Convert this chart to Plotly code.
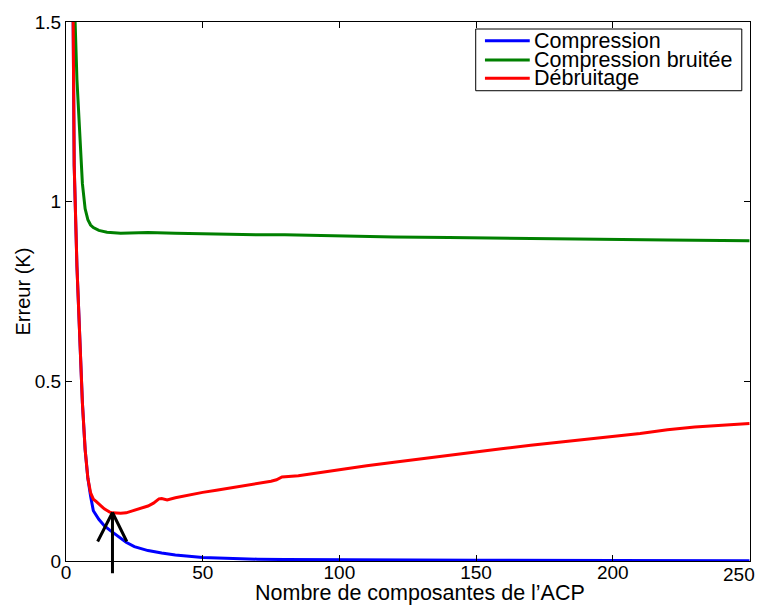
import plotly.graph_objects as go

# ---------------- data ----------------
x_comp = [1, 2, 3, 4, 5, 6, 7, 8, 9, 10, 12, 14, 16, 18, 20, 22, 25, 30, 35, 40, 50, 60, 70, 80,
          100, 150, 200, 250]
y_comp = [3.2, 2.0, 1.1, 0.82, 0.62, 0.44, 0.31, 0.23, 0.18, 0.14, 0.116, 0.098, 0.086, 0.074,
          0.062, 0.052, 0.040, 0.029, 0.022, 0.017, 0.010, 0.007, 0.005, 0.004,
          0.003, 0.002, 0.0015, 0.001]

x_noisy = [1, 2, 3, 4, 5, 6, 7, 8, 9, 10, 12, 15, 20, 30, 40, 50, 60, 70, 80, 90, 100, 120, 140,
           160, 180, 200, 220, 240, 250]
y_noisy = [3.5, 2.4, 1.58, 1.34, 1.2, 1.05, 0.98, 0.95, 0.935, 0.928, 0.92, 0.915, 0.912, 0.914,
           0.912, 0.910, 0.909, 0.908, 0.908, 0.906, 0.904, 0.902, 0.900, 0.898, 0.896, 0.893,
           0.893, 0.892, 0.891]

x_denoise = [1, 2, 3, 4, 5, 6, 7, 8, 9, 10, 11, 12, 13, 14, 15, 16, 17, 18, 20, 22, 24, 26, 28, 30,
             32, 34, 35, 37, 40, 45, 50, 55, 60, 65, 70, 75, 77, 79, 85, 90, 95, 100, 110, 120,
             130, 140, 150, 160, 170, 180, 190, 200, 210, 220, 230, 240, 250]
y_denoise = [3.2, 2.0, 1.1, 0.82, 0.62, 0.44, 0.31, 0.23, 0.19, 0.172, 0.166, 0.16, 0.152, 0.145,
             0.14, 0.136, 0.134, 0.133, 0.133, 0.134, 0.139, 0.145, 0.148, 0.153, 0.161, 0.173,
             0.174, 0.170, 0.176, 0.184, 0.191, 0.197, 0.203, 0.210, 0.216, 0.222, 0.226, 0.234,
             0.237, 0.243, 0.249, 0.255, 0.265, 0.275, 0.285, 0.295, 0.305, 0.313, 0.322, 0.330,
             0.337, 0.345, 0.355, 0.365, 0.373, 0.378, 0.383]

series_names = ["Compression", "Compression bruitée", "Débruitage"]
series_colors = ["#0000FF", "#008000", "#FF0000"]

x_ticks = [0, 50, 100, 150, 200, 250]
x_ticktext = ["0", "50", "100", "150", "200", "250"]
y_ticks = [0, 0.5, 1, 1.5]
y_ticktext = ["0", "0.5", "1", "1.5"]

x_title = "Nombre de composantes de l’ACP"
y_title = "Erreur (K)"

# arrow marking the optimum (data coordinates)
arrow_tip = (17, 0.135)
arrow_tail = (17, -0.038)
arrow_head_left = (11.3, 0.05)
arrow_head_right = (22.5, 0.05)

FONT = "Liberation Sans, Arial, Helvetica, sans-serif"
LABEL_SIZE = 21.5
TICK_SIZE = 19

fig = go.Figure()
for xs, ys, name, col in [(x_comp, y_comp, series_names[0], series_colors[0]),
                          (x_noisy, y_noisy, series_names[1], series_colors[1]),
                          (x_denoise, y_denoise, series_names[2], series_colors[2])]:
    fig.add_trace(go.Scatter(x=xs, y=ys, mode="lines", name=name,
                             line=dict(color=col, width=3), showlegend=False))

annotations = []
# arrow: shaft + two head strokes
for (hx, hy), (tx, ty) in [(arrow_tip, arrow_tail), (arrow_tip, arrow_head_left),
                           (arrow_tip, arrow_head_right)]:
    annotations.append(dict(x=hx, y=hy, ax=tx, ay=ty, xref="x", yref="y", axref="x", ayref="y",
                            text="", showarrow=True, arrowhead=0, arrowwidth=3,
                            arrowcolor="black"))

# custom legend (box, line samples, labels)
shapes = [dict(type="rect", xref="paper", yref="paper", x0=0.599, x1=0.988, y0=0.8725, y1=0.987,
               line=dict(color="black", width=1), fillcolor="white", layer="above")]
leg_rows = [0.9653, 0.9295, 0.8956]
for name, col, yy in zip(series_names, series_colors, leg_rows):
    shapes.append(dict(type="line", xref="paper", yref="paper", x0=0.6125, x1=0.678, y0=yy, y1=yy,
                       line=dict(color=col, width=3), layer="above"))
    annotations.append(dict(x=0.682, y=yy, xref="paper", yref="paper", text=name, showarrow=False,
                            xanchor="left", yanchor="middle",
                            font=dict(family=FONT, size=LABEL_SIZE, color="black")))

# last x tick label sits at the right border (drawn as text so it is not dropped)
annotations.append(dict(x=x_ticks[-1], y=0, xref="x", yref="paper", text=x_ticktext[-1],
                        showarrow=False, xanchor="center", yanchor="top", xshift=-10, yshift=-1,
                        font=dict(family=FONT, size=TICK_SIZE, color="black")))

# axis titles
annotations.append(dict(x=(420 - 66) / 684, y=-0.0594, xref="paper", yref="paper",
                        text=x_title, showarrow=False, xanchor="center", yanchor="middle",
                        font=dict(family=FONT, size=LABEL_SIZE, color="black")))
annotations.append(dict(x=-0.0629, y=0.5, xref="paper", yref="paper", text=y_title,
                        showarrow=False, textangle=-90, xanchor="center", yanchor="middle",
                        font=dict(family=FONT, size=20, color="black")))

axis_common = dict(showline=True, linecolor="black", linewidth=1, mirror="ticks",
                   ticks="inside", ticklen=6, tickcolor="black", showgrid=False, zeroline=False,
                   tickfont=dict(family=FONT, size=TICK_SIZE, color="black"))

fig.update_layout(
    width=760, height=605,
    margin=dict(l=66, r=10, t=22, b=44),
    paper_bgcolor="white", plot_bgcolor="white",
    xaxis=dict(range=[0, 250.2], tickvals=x_ticks, ticktext=x_ticktext[:-1] + [""],
               ticklabelstandoff=-6, **axis_common),
    yaxis=dict(range=[0, 1.5], tickvals=y_ticks, ticktext=y_ticktext, **axis_common),
    shapes=shapes, annotations=annotations, showlegend=False,
)

fig.write_html("out.html", config={"displayModeBar": False},
               post_script="document.body.style.margin='0px';document.body.style.overflow='hidden';")
